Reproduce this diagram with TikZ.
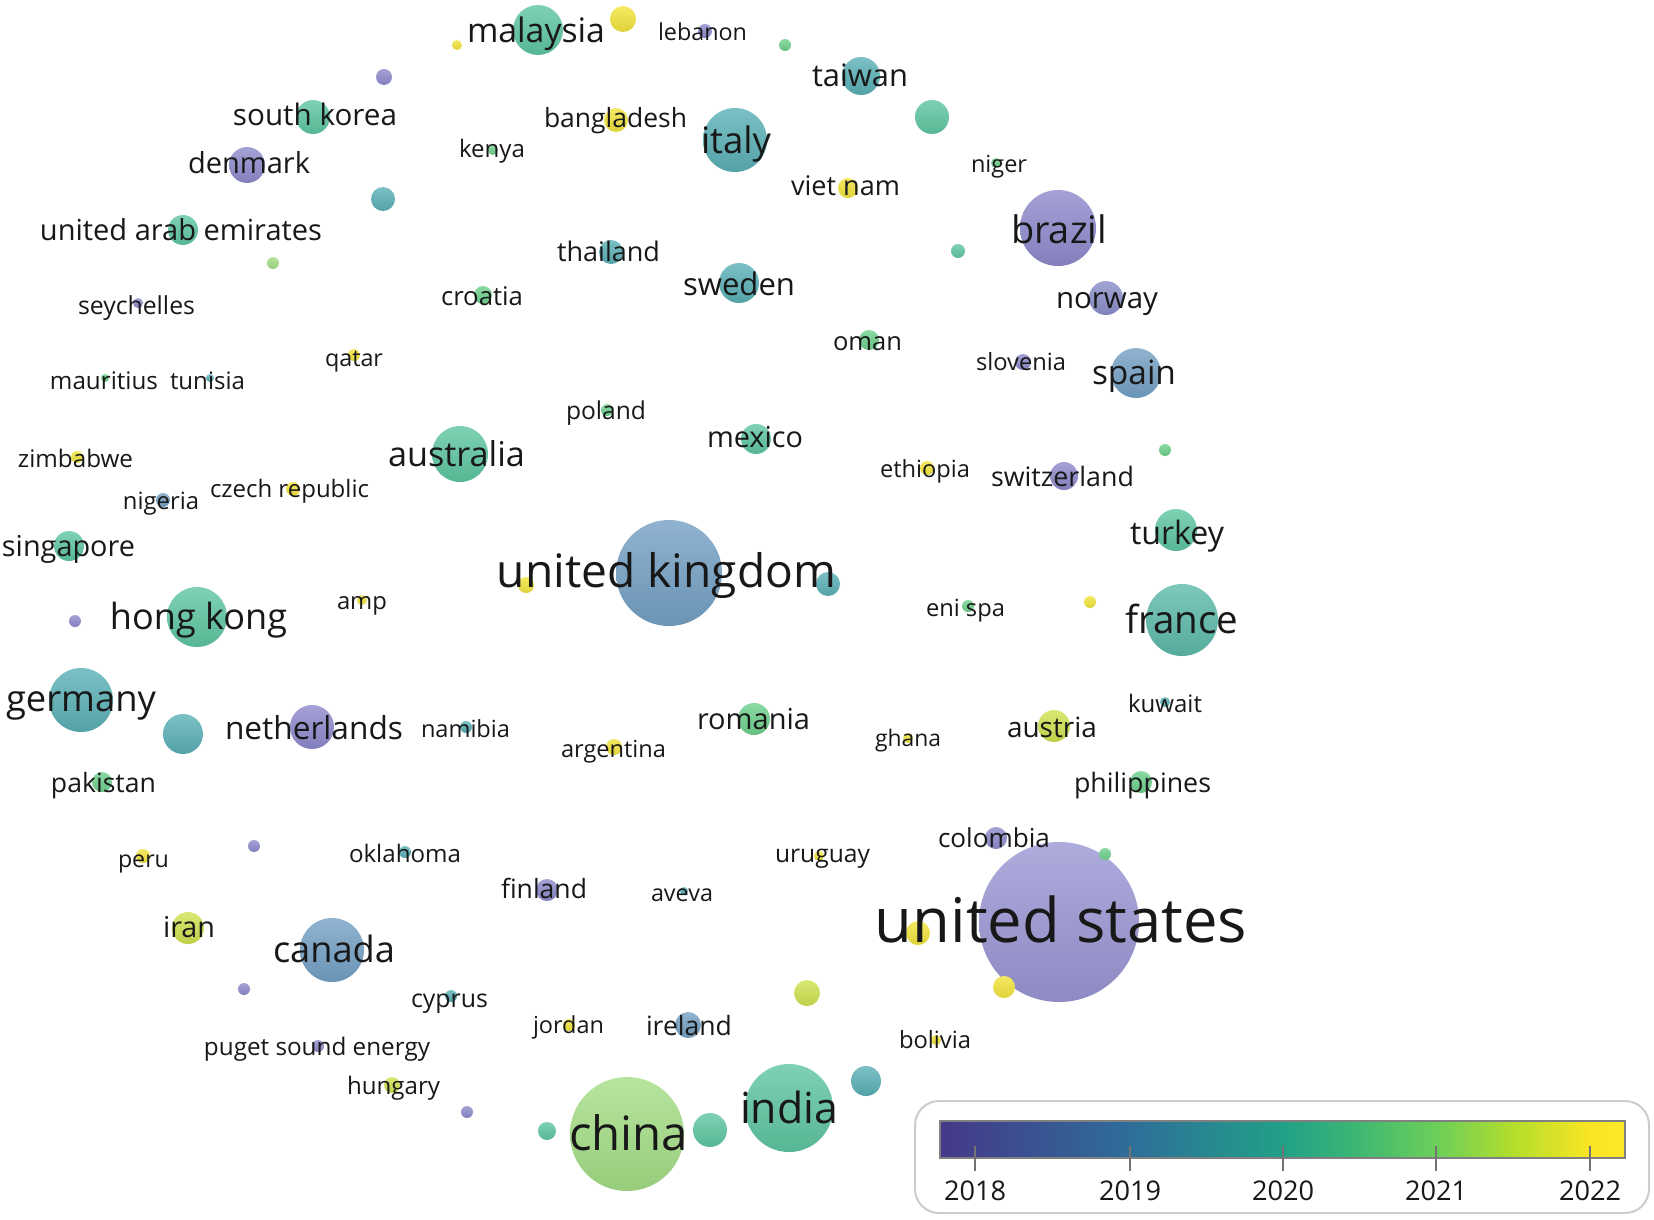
\documentclass[tikz,border=0pt]{standalone}
\usepackage{fontspec}
\setmainfont{Open Sans}
\usepackage{graphicx}
\newlength\pxu \setlength\pxu{0.5pt}
\definecolor{cP}{RGB}{142,138,204}
\definecolor{cPL}{RGB}{154,150,212}
\definecolor{cPB}{RGB}{138,142,202}
\definecolor{cB}{RGB}{116,160,196}
\definecolor{cT}{RGB}{90,176,182}
\definecolor{cTT}{RGB}{92,186,170}
\definecolor{cTG}{RGB}{94,198,160}
\definecolor{cG}{RGB}{110,208,140}
\definecolor{cLG}{RGB}{164,222,134}
\definecolor{cYG}{RGB}{208,226,80}
\definecolor{cY}{RGB}{242,228,60}
\definecolor{txt}{RGB}{24,24,24}
\pgfdeclarehorizontalshading{vosbar}{100bp}{rgb(0bp)=(0.27,0.22,0.54); rgb(25bp)=(0.27,0.22,0.54); rgb(38.87bp)=(0.18,0.43,0.60); rgb(50.05bp)=(0.13,0.63,0.53); rgb(55bp)=(0.23,0.71,0.46); rgb(61.2bp)=(0.42,0.81,0.35); rgb(67bp)=(0.71,0.87,0.17); rgb(72.4bp)=(0.98,0.90,0.14); rgb(75bp)=(0.99,0.91,0.15); rgb(100bp)=(0.99,0.91,0.15)}
\tikzset{
  bub/.style={circle, inner sep=0pt, outer sep=0pt, draw=none, top color=#1!80!white, bottom color=#1!92!black},
  lab/.style={anchor=base, inner sep=0pt, outer sep=0pt, text=txt, yshift=-1pt},
}
% name, x, y, radius(px), colour
\newcommand\vdot[5]{\node[bub=#5, minimum size=#4pt] (#1) at (#2,#3) {};}
% name, x, baseline, width(px), text
\newcommand\vlab[5]{\node[lab] (#1) at (#2,#3) {\resizebox{#4\pxu}{!}{#5}};}
\begin{document}
\begin{tikzpicture}[x=0.5pt,y=-0.5pt]
\fill[white] (0,0) rectangle (1654,1220);
\useasboundingbox (0,0) rectangle (1654,1220);
% ---- large bubbles first
\vdot{b-us}{1059}{922}{80}{cPL}
\vdot{b-china}{627}{1134}{57}{cLG}
\vdot{b-uk}{669}{573}{53}{cB}
\vdot{b-india}{789}{1108}{44}{cTG}
\vdot{b-brazil}{1058}{228}{38}{cP}
\vdot{b-france}{1182}{620}{36}{cTT}
\vdot{b-italy}{735}{140}{32}{cT}
\vdot{b-germany}{81}{700}{32}{cT}
\vdot{b-canada}{332}{950}{32}{cB}
\vdot{b-hongkong}{197}{617}{30}{cTG}
\vdot{b-australia}{460}{454}{28}{cTG}
\vdot{b-malaysia}{538}{30}{25}{cTG}
\vdot{b-spain}{1136}{373}{25}{cB}
\vdot{b-netherlands}{312}{727}{22}{cP}
\vdot{b-turkey}{1176}{530}{21}{cTG}
\vdot{b-sweden}{739}{283}{20}{cT}
\vdot{d10}{183}{734}{20}{cT}
\vdot{b-taiwan}{861}{76}{19}{cT}
\vdot{b-denmark}{247}{165}{18}{cP}
\vdot{b-southkorea}{313}{117}{17}{cTG}
\vdot{b-norway}{1106}{298}{17}{cPB}
\vdot{d7}{932}{117}{17}{cTG}
\vdot{d20}{710}{1130}{17}{cTG}
\vdot{b-romania}{754}{719}{16}{cG}
\vdot{b-austria}{1054}{726}{16}{cYG}
\vdot{b-iran}{188}{928}{16}{cYG}
\vdot{b-uae}{183}{230}{15}{cTG}
\vdot{b-singapore}{69}{546}{15}{cTG}
\vdot{b-mexico}{756}{439}{15}{cTG}
\vdot{d24}{866}{1081}{15}{cT}
\vdot{b-switzerland}{1064}{476}{14}{cP}
\vdot{d5}{623}{19}{13}{cY}
\vdot{d18}{807}{993}{13}{cYG}
\vdot{b-ireland}{688}{1025}{13}{cB}
\vdot{d2}{383}{199}{12}{cT}
\vdot{b-bangladesh}{616}{120}{12}{cY}
\vdot{b-thailand}{611}{252}{12}{cT}
\vdot{d12}{828}{584}{12}{cT}
\vdot{d22}{918}{933}{12}{cY}
\vdot{b-philippines}{1141}{782}{11}{cG}
\vdot{b-finland}{547}{890}{11}{cP}
\vdot{b-colombia}{996}{838}{11}{cP}
\vdot{d23}{1004}{987}{11}{cY}
\vdot{b-vietnam}{848}{188}{10}{cY}
\vdot{b-oman}{869}{340}{10}{cG}
\vdot{b-pakistan}{102}{782}{10}{cG}
\vdot{b-croatia}{483}{295}{9}{cG}
\vdot{d19}{547}{1131}{9}{cTG}
\vdot{d1}{384}{77}{8}{cP}
\vdot{b-slovenia}{1023}{362}{8}{cP}
\vdot{d11}{526}{585}{8}{cY}
\vdot{b-argentina}{614}{747}{8}{cY}
\vdot{b-hungary}{392}{1085}{8}{cYG}
\vdot{b-lebanon}{705}{31}{7}{cP}
\vdot{d8}{958}{251}{7}{cTG}
\vdot{b-czech}{293}{489}{7}{cY}
\vdot{b-nigeria}{163}{500}{7}{cB}
\vdot{b-ethiopia}{927}{468}{7}{cY}
\vdot{b-peru}{143}{856}{7}{cY}
\vdot{d3}{273}{263}{6}{cLG}
\vdot{d6}{785}{45}{6}{cG}
\vdot{d9}{75}{621}{6}{cP}
\vdot{d13}{1165}{450}{6}{cG}
\vdot{d14}{1090}{602}{6}{cY}
\vdot{d15}{254}{846}{6}{cP}
\vdot{d16}{244}{989}{6}{cP}
\vdot{d17}{467}{1112}{6}{cP}
\vdot{d21}{1105}{854}{6}{cG}
\vdot{b-qatar}{354}{355}{6}{cY}
\vdot{b-zimbabwe}{77}{457}{6}{cY}
\vdot{b-poland}{607}{410}{6}{cG}
\vdot{b-namibia}{466}{727}{6}{cT}
\vdot{b-enispa}{968}{606}{6}{cG}
\vdot{b-oklahoma}{405}{852}{6}{cT}
\vdot{b-puget}{318}{1046}{6}{cP}
\vdot{b-cyprus}{451}{996}{6}{cT}
\vdot{b-jordan}{569}{1025}{6}{cY}
\vdot{d4}{457}{45}{5}{cY}
\vdot{b-seychelles}{138}{303}{5}{cP}
\vdot{b-kenya}{493}{150}{5}{cG}
\vdot{b-niger}{996}{163}{5}{cG}
\vdot{b-amp}{362}{600}{5}{cY}
\vdot{b-kuwait}{1165}{702}{5}{cT}
\vdot{b-ghana}{908}{738}{5}{cY}
\vdot{b-uruguay}{819}{856}{5}{cY}
\vdot{b-bolivia}{936}{1040}{5}{cY}
\vdot{b-mauritius}{105}{378}{4}{cG}
\vdot{b-tunisia}{210}{378}{4}{cT}
\vdot{b-aveva}{684}{891}{4}{cT}
% ---- labels
\vlab{l-southkorea}{315}{124}{164}{south korea}
\vlab{l-denmark}{249}{172}{122}{denmark}
\vlab{l-uae}{181}{238}{282}{united arab emirates}
\vlab{l-seychelles}{136.5}{312}{117}{seychelles}
\vlab{l-qatar}{354}{364}{58}{qatar}
\vlab{l-mauritius}{104}{387}{108}{mauritius}
\vlab{l-tunisia}{207.5}{387}{75}{tunisia}
\vlab{l-malaysia}{536}{41}{138}{malaysia}
\vlab{l-lebanon}{702.5}{39}{89}{lebanon}
\vlab{l-bangladesh}{615.5}{126}{143}{bangladesh}
\vlab{l-kenya}{492}{156}{66}{kenya}
\vlab{l-italy}{736}{152}{70}{italy}
\vlab{l-thailand}{608.5}{259}{103}{thailand}
\vlab{l-sweden}{739}{293}{112}{sweden}
\vlab{l-croatia}{482}{303}{82}{croatia}
\vlab{l-taiwan}{860}{85}{96}{taiwan}
\vlab{l-vietnam}{845.5}{193}{109}{viet nam}
\vlab{l-niger}{999}{171}{56}{niger}
\vlab{l-brazil}{1059}{241}{96}{brazil}
\vlab{l-norway}{1107}{306}{102}{norway}
\vlab{l-oman}{867.5}{348}{69}{oman}
\vlab{l-slovenia}{1021}{368}{90}{slovenia}
\vlab{l-spain}{1134}{382}{84}{spain}
\vlab{l-zimbabwe}{75.5}{465}{115}{zimbabwe}
\vlab{l-czech}{289.5}{495}{159}{czech republic}
\vlab{l-nigeria}{161}{507}{76}{nigeria}
\vlab{l-singapore}{68.5}{554}{133}{singapore}
\vlab{l-amp}{362}{607}{50}{amp}
\vlab{l-hongkong}{198.5}{627}{177}{hong kong}
\vlab{l-germany}{81}{709}{150}{germany}
\vlab{l-netherlands}{314}{737}{178}{netherlands}
\vlab{l-pakistan}{103.5}{790}{105}{pakistan}
\vlab{l-poland}{606}{417}{80}{poland}
\vlab{l-australia}{456.5}{464}{137}{australia}
\vlab{l-mexico}{755}{445}{96}{mexico}
\vlab{l-uk}{666.5}{585}{339}{united kingdom}
\vlab{l-namibia}{465.5}{735}{89}{namibia}
\vlab{l-argentina}{613.5}{755}{105}{argentina}
\vlab{l-romania}{753.5}{727}{113}{romania}
\vlab{l-ethiopia}{925}{475}{90}{ethiopia}
\vlab{l-switzerland}{1062.5}{484}{143}{switzerland}
\vlab{l-turkey}{1177}{542}{94}{turkey}
\vlab{l-enispa}{965.5}{614}{79}{eni spa}
\vlab{l-france}{1181.5}{631}{113}{france}
\vlab{l-kuwait}{1165}{710}{74}{kuwait}
\vlab{l-ghana}{908}{744}{66}{ghana}
\vlab{l-austria}{1052}{735}{90}{austria}
\vlab{l-philippines}{1142.5}{790}{137}{philippines}
\vlab{l-peru}{143.5}{865}{51}{peru}
\vlab{l-oklahoma}{405}{860}{112}{oklahoma}
\vlab{l-iran}{189}{935}{52}{iran}
\vlab{l-canada}{334}{960}{122}{canada}
\vlab{l-puget}{317}{1053}{226}{puget sound energy}
\vlab{l-hungary}{393.5}{1092}{93}{hungary}
\vlab{l-finland}{544}{896}{86}{finland}
\vlab{l-aveva}{682}{899}{62}{aveva}
\vlab{l-uruguay}{822.5}{860}{95}{uruguay}
\vlab{l-cyprus}{449.5}{1005}{77}{cyprus}
\vlab{l-jordan}{568.5}{1031}{71}{jordan}
\vlab{l-ireland}{689}{1033}{86}{ireland}
\vlab{l-china}{628.5}{1148}{119}{china}
\vlab{l-india}{789}{1121}{98}{india}
\vlab{l-colombia}{994}{845}{112}{colombia}
\vlab{l-us}{1061}{940}{372}{united states}
\vlab{l-bolivia}{935}{1046}{72}{bolivia}
% ---- legend
\draw[draw=black!20, line width=1pt, rounded corners=12pt, fill=white] (915,1101) rectangle (1649,1213);
\shade[shading=vosbar] (940,1121) rectangle (1625,1158);
\draw[draw=black!50, line width=1.1pt] (940,1121) rectangle (1625,1158);
\foreach \tx/\yr in {975/2018,1130/2019,1283/2020,1436/2021,1590/2022}{
  \draw[draw=black!55, line width=1pt] (\tx,1146) -- (\tx,1171);
  \node[lab] (t\yr) at (\tx,1198) {\resizebox{62\pxu}{!}{\yr}};
}
\end{tikzpicture}
\end{document}
